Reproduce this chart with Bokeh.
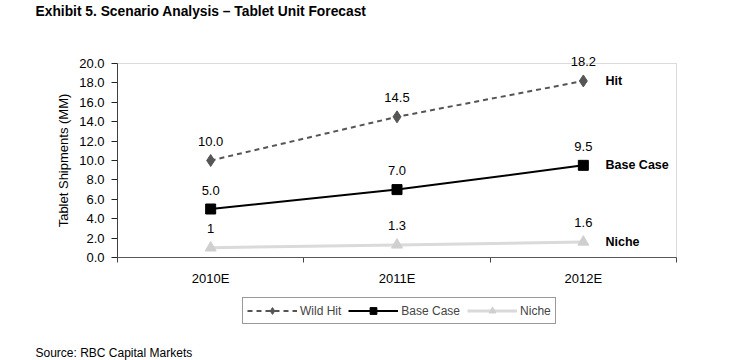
from bokeh.plotting import figure
from bokeh.models import (Range1d, FixedTicker, NumeralTickFormatter, Label, LabelSet,
                          ColumnDataSource, Legend, LegendItem, BoxAnnotation)
from bokeh.core.properties import value
from bokeh.embed import file_html
from bokeh.resources import INLINE

categories = ["2010E", "2011E", "2012E"]
wild_hit = [10.0, 14.5, 18.2]
base_case = [5.0, 7.0, 9.5]
niche = [1.0, 1.3, 1.6]
wild_hit_labels = ["10.0", "14.5", "18.2"]
base_case_labels = ["5.0", "7.0", "9.5"]
niche_labels = ["1", "1.3", "1.6"]
y_ticks = [0, 2, 4, 6, 8, 10, 12, 14, 16, 18, 20]
y_max = 20

FONT = "Liberation Sans"
x = [i + 0.5 for i in range(len(categories))]
n = len(categories)

# page layout (pixels): canvas and the plot area inside it
W, H = 756, 360
PL, PR, PT, PB = 117, 676, 63, 257
xs = (PR - PL) / n          # px per category
ys = (PB - PT) / y_max      # px per unit
def dx(px): return (px - PL) / xs
def dy(py): return (PB - py) / ys

p = figure(width=W, height=H, output_backend="svg", toolbar_location=None,
           x_range=Range1d(dx(0), dx(W)), y_range=Range1d(dy(H), dy(0)),
           min_border=0, min_border_left=0, min_border_right=0,
           min_border_top=0, min_border_bottom=0)
p.outline_line_color = None
p.xgrid.visible = False
p.ygrid.visible = False

p.add_layout(BoxAnnotation(left=0, right=n, bottom=0, top=y_max,
                           fill_alpha=0, line_color="#888888", line_width=1))

wl = p.line(x, wild_hit, line_color="#555555", line_width=2, line_dash="5 4")
wm = p.scatter(x, wild_hit, marker="diamond", size=12, color="#555555")
bl = p.line(x, base_case, line_color="black", line_width=2)
bm = p.scatter(x, base_case, marker="square", size=10, color="black")
nl = p.line(x, niche, line_color="#dadada", line_width=3)
nm = p.scatter(x, niche, marker="triangle", size=11, color="#cfcfcf")

for vals, labs in ((wild_hit, wild_hit_labels), (base_case, base_case_labels), (niche, niche_labels)):
    src = ColumnDataSource(dict(x=x, y=vals, t=labs))
    p.add_layout(LabelSet(x="x", y="y", text="t", source=src, y_offset=19,
                          text_align="center", text_baseline="middle",
                          text_font=value(FONT), text_font_size="13px", text_color="black"))

end_x = dx(605)
for yv, txt in ((wild_hit[-1], "Hit"), (base_case[-1], "Base Case"), (niche[-1] - 0.05, "Niche")):
    p.add_layout(Label(x=end_x, y=yv, text=txt, text_font=FONT, text_font_size="12.5px",
                       text_font_style="bold", text_baseline="middle", text_color="black"))

p.add_layout(Label(x=dx(35), y=dy(11), text="Exhibit 5. Scenario Analysis \u2013 Tablet Unit Forecast",
                   text_font=FONT, text_font_size="13.8px", text_font_style="bold",
                   text_baseline="middle", text_color="black"))
p.add_layout(Label(x=dx(35), y=dy(352), text="Source: RBC Capital Markets",
                   text_font=FONT, text_font_size="12px", text_baseline="middle",
                   text_color="black"))

# y axis (fixed at x=0 so it takes no side-panel space)
p.yaxis.fixed_location = 0
p.yaxis.bounds = (0, y_max)
p.yaxis.ticker = FixedTicker(ticks=y_ticks)
p.yaxis.formatter = NumeralTickFormatter(format="0.0")
p.yaxis.major_tick_out = 6
p.yaxis.major_tick_in = 0
p.yaxis.minor_tick_line_color = None
p.yaxis.major_label_standoff = 7
p.yaxis.major_label_text_font = FONT
p.yaxis.major_label_text_font_size = "13px"
p.yaxis.major_label_text_color = "black"
p.yaxis.axis_line_color = "#222222"
p.yaxis.major_tick_line_color = "#222222"
p.yaxis.axis_label = "Tablet Shipments (MM)"
p.yaxis.axis_label_text_font = FONT
p.yaxis.axis_label_text_font_size = "13px"
p.yaxis.axis_label_text_font_style = "normal"
p.yaxis.axis_label_text_color = "black"
p.yaxis.axis_label_standoff = 5

# x axis (fixed at y=0)
p.xaxis.fixed_location = 0
p.xaxis.bounds = (0, n)
p.xaxis.ticker = FixedTicker(ticks=x, minor_ticks=list(range(n + 1)))
p.xaxis.major_label_overrides = {xi: c for xi, c in zip(x, categories)}
p.xaxis.major_tick_line_color = None
p.xaxis.major_tick_out = 0
p.xaxis.major_tick_in = 0
p.xaxis.minor_tick_out = 5
p.xaxis.minor_tick_in = 0
p.xaxis.minor_tick_line_color = "#444444"
p.xaxis.axis_line_color = "#444444"
p.xaxis.major_label_standoff = 8
p.xaxis.major_label_text_font = FONT
p.xaxis.major_label_text_font_size = "13px"
p.xaxis.major_label_text_color = "black"

legend = Legend(items=[LegendItem(label="Wild Hit", renderers=[wl, wm]),
                       LegendItem(label="Base Case", renderers=[bl, bm]),
                       LegendItem(label="Niche", renderers=[nl, nm])],
                location=(242, H - 324), orientation="horizontal",
                label_text_font=FONT, label_text_font_size="12px",
                glyph_width=50, glyph_height=17, label_height=17, padding=4,
                spacing=7, label_standoff=3, margin=0,
                border_line_color="#333333", background_fill_alpha=1)
p.add_layout(legend)

open("out.html", "w").write(file_html(p, INLINE))
